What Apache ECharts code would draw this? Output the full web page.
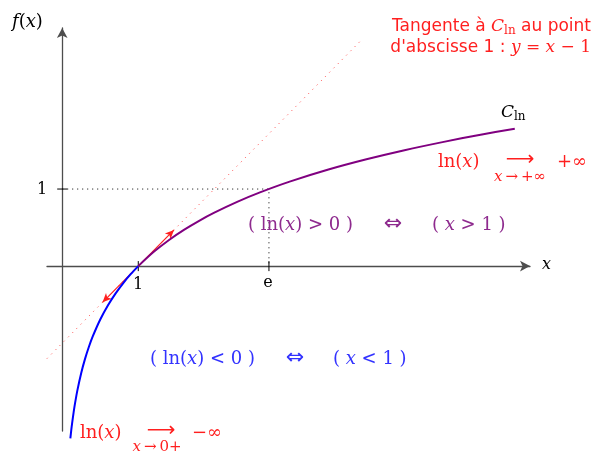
<!DOCTYPE html>
<html>
<head>
<meta charset="utf-8">
<script src="https://cdn.jsdelivr.net/npm/echarts@6/dist/echarts.min.js"></script>
<style>
  html, body { margin: 0; padding: 0; background: #fff; }
  #chart { width: 595px; height: 453px; }
</style>
</head>
<body>
<div id="chart"></div>
<script>
// Sampled points of y = ln(x), split at x = 1
const lnLowX = [0.107, 0.12, 0.13, 0.15, 0.17, 0.2, 0.25, 0.3, 0.35, 0.4, 0.5, 0.6, 0.7, 0.8, 0.9, 1.0];
const lnLowY = [-2.235, -2.120, -2.040, -1.897, -1.772, -1.609, -1.386, -1.204, -1.050, -0.916, -0.693, -0.511, -0.357, -0.223, -0.105, 0];
const lnHighX = [1.0, 1.2, 1.4, 1.6, 1.8, 2.0, 2.3, 2.6, 3.0, 3.5, 4.0, 4.5, 5.0, 5.5, 5.95];
const lnHighY = [0, 0.182, 0.336, 0.470, 0.588, 0.693, 0.833, 0.956, 1.099, 1.253, 1.386, 1.504, 1.609, 1.705, 1.783];

// Tangent at x = 1 : y = x - 1
const tangentX = [-0.2, 3.95];
const tangentY = [-1.2, 2.95];

// Tangent vectors drawn from (1, 0)
const vecOrigin = [1, 0];
const vecEnds = [[1.47, 0.47], [0.53, -0.47]];

// Guide lines to the point (e, 1)
const E = 2.718;
const guideX = [0, E, E];
const guideY = [1, 1, 0];

// Axis tick positions and their labels
const xTicks = [1, E];
const xTickLabels = ['1', 'e'];
const yTicks = [1];
const yTickLabels = ['1'];

const zip = (xs, ys) => xs.map((x, i) => [x, ys[i]]);

const RED = '#ff1f1f';
const BLUE = '#0000ff';
const PURPLE = '#800080';
const SERIF = '"DejaVu Serif", "Liberation Serif", serif';
const SANS = '"DejaVu Sans", "Liberation Sans", sans-serif';
const THIN = '\u2009';

const chart = echarts.init(document.getElementById('chart'), null, { renderer: 'canvas' });

const axisCommon = {
  type: 'value',
  axisLine: {
    onZero: true,
    symbol: ['none', 'arrow'],
    symbolSize: [8, 10],
    lineStyle: { color: '#4d4d4d', width: 1.3 }
  },
  axisTick: { show: false },
  axisLabel: { show: false },
  splitLine: { show: false }
};

const tickSeries = [];
xTicks.forEach(t => tickSeries.push({
  type: 'line', data: [[t, -0.065], [t, 0.065]], symbol: 'none', silent: true,
  lineStyle: { color: '#000', width: 1 }, z: 4
}));
yTicks.forEach(t => tickSeries.push({
  type: 'line', data: [[-0.066, t], [0.066, t]], symbol: 'none', silent: true,
  lineStyle: { color: '#000', width: 1 }, z: 4
}));

// math text helpers
const mathRich = (color, size) => ({
  r: { fontFamily: SERIF, fontSize: size, fill: color, color: color },
  i: { fontFamily: SERIF, fontSize: size, fontStyle: 'italic', fill: color, color: color }
});
function txt(text, x, y, color, size, align, family) {
  return {
    type: 'text', silent: true, z: 10,
    style: {
      text: text, x: x, y: y, fill: color,
      font: size + 'px ' + (family || SERIF),
      align: align || 'left', verticalAlign: 'middle',
      rich: mathRich(color, size)
    }
  };
}

const graphics = [
  // axis names
  txt('{i|f}{r|(}{i|x}{r|)}', 12, 22, '#000', 18, 'left'),
  txt('{i|x}', 542, 265, '#000', 16, 'left'),
  // tick labels
  txt(xTickLabels[0], 138, 285, '#000', 16, 'center'),
  txt(xTickLabels[1], 268, 283, '#000', 16, 'center'),
  txt(yTickLabels[0], 42, 190, '#000', 16, 'center'),
  // curve name
  {
    type: 'text', silent: true, z: 10,
    style: {
      text: '{c|C}{s|ln}', x: 501, y: 113, align: 'left', verticalAlign: 'middle',
      rich: {
        c: { fontFamily: SERIF, fontSize: 17, fontStyle: 'italic', fill: '#000', lineHeight: 20 },
        s: { fontFamily: SERIF, fontSize: 12, fill: '#000', lineHeight: 12, verticalAlign: 'bottom' }
      }
    }
  },
  // tangent caption
  {
    type: 'text', silent: true, z: 10,
    style: {
      text: '{t|Tangente à }{c|C}{s|ln}{t| au point}', x: 591, y: 27, align: 'right', verticalAlign: 'middle',
      rich: {
        t: { fontFamily: SANS, fontSize: 17, fill: RED, lineHeight: 20 },
        c: { fontFamily: SERIF, fontSize: 17, fontStyle: 'italic', fill: RED, lineHeight: 20 },
        s: { fontFamily: SERIF, fontSize: 12, fill: RED, lineHeight: 12, verticalAlign: 'bottom' }
      }
    }
  },
  {
    type: 'text', silent: true, z: 10,
    style: {
      text: '{t|d\'abscisse 1 : }{i|y}{r| = }{i|x}{r| − 1}', x: 591, y: 48, align: 'right', verticalAlign: 'middle',
      rich: {
        t: { fontFamily: SANS, fontSize: 17, fill: RED },
        r: { fontFamily: SERIF, fontSize: 17, fill: RED },
        i: { fontFamily: SERIF, fontSize: 17, fontStyle: 'italic', fill: RED }
      }
    }
  },
  // limit at +infinity
  txt('{r|ln(}{i|x}{r|)}', 438, 162, RED, 18, 'left'),
  txt('⟶', 520, 160, RED, 20, 'center', SANS),
  txt('{r|+∞}', 557, 162, RED, 18, 'left'),
  txt('{i|x}{r|' + THIN + '→' + THIN + '+∞}', 520, 177, RED, 15, 'center'),
  // limit at 0+
  txt('{r|ln(}{i|x}{r|)}', 80, 433, RED, 18, 'left'),
  txt('⟶', 161, 431, RED, 20, 'center', SANS),
  txt('{r|−∞}', 192, 433, RED, 18, 'left'),
  txt('{i|x}{r|' + THIN + '→' + THIN + '0+}', 157, 447, RED, 15, 'center'),
  // sign statements
  txt('{r|( ln(}{i|x}{r|) > 0 )}', 248, 225, '#8e2a8e', 18, 'left'),
  txt('⇔', 393, 224, '#8e2a8e', 22, 'center', SANS),
  txt('{r|( }{i|x}{r| > 1 )}', 432, 225, '#8e2a8e', 18, 'left'),
  txt('{r|( ln(}{i|x}{r|) < 0 )}', 150, 359, '#3333ff', 18, 'left'),
  txt('⇔', 295, 358, '#3333ff', 22, 'center', SANS),
  txt('{r|( }{i|x}{r| < 1 )}', 333, 359, '#3333ff', 18, 'left')
];

chart.setOption({
  animation: false,
  backgroundColor: '#fff',
  grid: { left: 47, right: 65, top: 28, bottom: 22, containLabel: false },
  xAxis: Object.assign({}, axisCommon, { min: -0.2, max: 6.15 }),
  yAxis: Object.assign({}, axisCommon, { min: -2.14, max: 3.09 }),
  series: [
    {
      type: 'line', data: zip(tangentX, tangentY), symbol: 'none', silent: true, clip: false,
      lineStyle: { color: RED, width: 1, type: [1, 5], opacity: 0.85 }, z: 2
    },
    {
      type: 'line', data: zip(guideX, guideY), symbol: 'none', silent: true,
      lineStyle: { color: '#000', width: 1, type: [1, 4] }, z: 2
    },
    ...tickSeries,
    {
      type: 'line', data: zip(lnLowX, lnLowY), symbol: 'none', smooth: 0.3, clip: false, silent: true,
      lineStyle: { color: BLUE, width: 2 }, z: 5
    },
    {
      type: 'line', data: zip(lnHighX, lnHighY), symbol: 'none', smooth: 0.3, clip: false, silent: true,
      lineStyle: { color: PURPLE, width: 2 }, z: 5
    },
    {
      type: 'line', data: [], symbol: 'none', silent: true, z: 6,
      markLine: {
        silent: true, animation: false,
        symbol: ['none', 'arrow'], symbolSize: [6, 9],
        label: { show: false },
        lineStyle: { color: RED, width: 1.2, type: 'solid' },
        data: vecEnds.map(p => [{ coord: vecOrigin }, { coord: p }])
      }
    }
  ],
  graphic: graphics
});
</script>
</body>
</html>
